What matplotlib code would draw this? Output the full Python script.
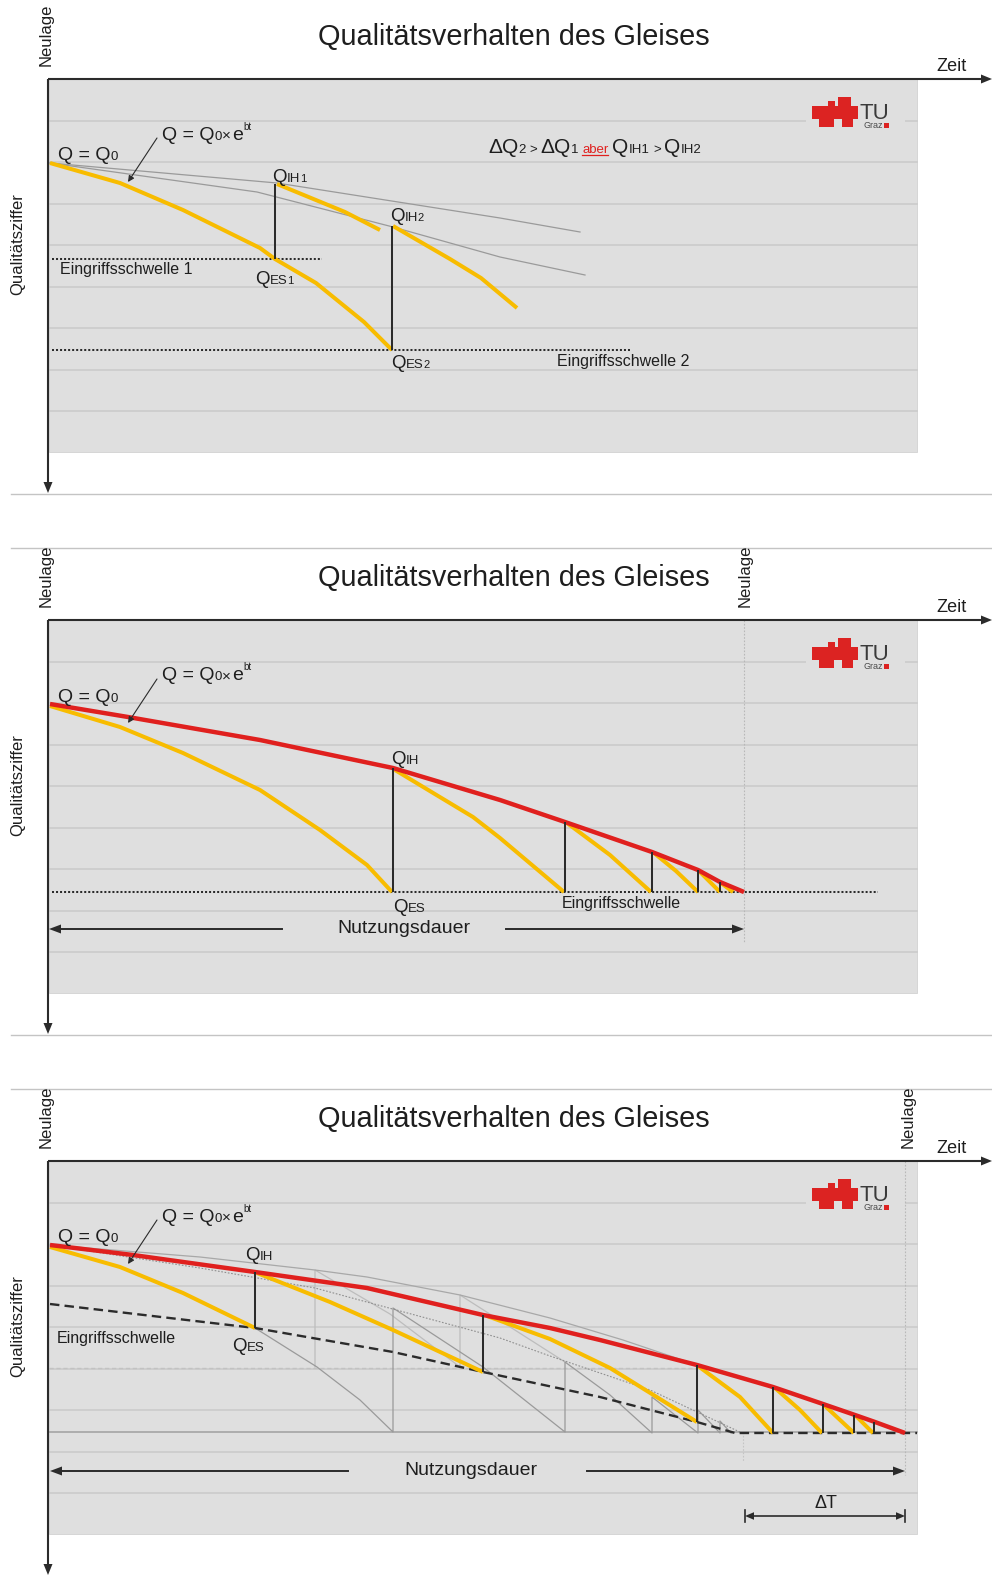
import numpy as np
import matplotlib
matplotlib.use("Agg")
import matplotlib.pyplot as plt
from matplotlib.patches import Rectangle, Polygon

plt.rcParams['font.family'] = ['Liberation Sans', 'DejaVu Sans']

# ---------------------------------------------------------------------------
# Figure frame: three stacked panels, each with its own local time / quality
# coordinate system (time to the right, quality index growing downward).
# ---------------------------------------------------------------------------
FIG_W, FIG_H = 992, 1575
PANEL_H = 541
T_MAX = 992

TITLE = "Qualitätsverhalten des Gleises"
X_LABEL = "Zeit"
Y_LABEL = "Qualitätsziffer"
NEW_LABEL = "Neulage"

# ---------------------------- panel 1 data --------------------------------
p1_decay_t = [50, 120, 183, 260, 275, 316, 364, 392]
p1_decay_q = [163, 183, 210, 248, 259, 283, 322, 350]
p1_after1_t = [277, 345, 380]
p1_after1_q = [184, 212, 230]
p1_after2_t = [393, 450, 481, 517]
p1_after2_q = [226, 259, 278, 308]
p1_env1_t = [50, 277, 500, 580]
p1_env1_q = [163, 183, 218, 232]
p1_env2_t = [50, 257, 393, 500, 585]
p1_env2_q = [163, 192, 227, 257, 275]
p1_threshold_q = [259, 350]
p1_threshold_end = [322, 632]
p1_int_t = [275, 392]
p1_int_top = [184, 226]
p1_int_bottom = [259, 350]

# ---------------------------- panel 2 data --------------------------------
p2_red_t = [50, 128, 260, 393, 500, 565, 652, 698, 720, 744]
p2_red_q = [163, 176, 199, 227, 259, 281, 311, 329, 341, 351]
p2_decay = [
    ([50, 120, 183, 260, 320, 367, 392], [165, 186, 212, 249, 289, 324, 351]),
    ([395, 473, 500, 564], [229, 276, 297, 351]),
    ([567, 610, 651], [282, 314, 351]),
    ([654, 676, 698], [312, 330, 351]),
    ([700, 720], [331, 351]),
    ([721, 733], [342, 351]),
]
p2_int_t = [393, 565, 652, 698, 720]
p2_threshold_q = 351
p2_threshold_end = 878
p2_life_end = 744

# ---------------------------- panel 3 data --------------------------------
p3_red_t = [50, 133, 255, 367, 483, 550, 600, 697, 773, 823, 855, 875, 905]
p3_red_q = [163, 173, 190, 206, 233, 246, 258, 283, 305, 322, 333, 340, 351]
p3_decay = [
    ([50, 120, 183, 255], [165, 185, 211, 246]),
    ([257, 330, 393, 483], [191, 220, 248, 290]),
    ([487, 550, 610, 697], [234, 257, 286, 340]),
    ([698, 740, 773], [284, 315, 351]),
    ([775, 800, 822], [306, 328, 351]),
    ([824, 854], [323, 351]),
    ([856, 873], [334, 351]),
]
p3_int_t = [255, 483, 697, 773, 823, 854, 874]
p3_es_t = [50, 255, 393, 483, 600, 697, 735, 917]
p3_es_q = [222, 246, 270, 290, 315, 340, 351, 351]
p3_upper_t = [50, 200, 315, 367, 460, 550, 623, 697]
p3_upper_q = [163, 175, 188, 195, 213, 236, 258, 283]
p3_dotted_t = [50, 200, 315, 500, 550, 650, 742]
p3_dotted_q = [163, 186, 206, 256, 274, 308, 351]
p3_saw_t = [255, 317, 360, 393, 393, 483, 565, 565, 610, 652, 652, 698, 698, 720, 720, 731]
p3_saw_q = [246, 285, 318, 350, 226, 285, 350, 280, 313, 351, 315, 351, 328, 351, 339, 351]
p3_light_t = [315, 315, 390, 460, 460, 565]
p3_light_q = [285, 188, 232, 285, 213, 280]
p3_light_threshold = 286
p3_base_q = 350
p3_life_end = 905
p3_delta_start = 745

# ------------------------------ styling -----------------------------------
BG = '#dfdfdf'
GRID = '#c9c9c9'
YELLOW = '#f8bc00'
RED = '#e0201e'
LOGO_RED = '#dc2322'
DARK = '#2b2b2b'
GRAY = '#9a9a9a'
LIGHT = '#bdbdbd'
TXT = '#1e1e1e'
GRID_Q = [120.5, 162, 203.5, 245, 286.5, 328, 369.5, 411]
FRAME_L, FRAME_R, FRAME_T, FRAME_B = 49, 917, 79, 452

# TU Graz mark, built from red blocks (x0, y0, x1, y1)
LOGO_BLOCKS = [(812, 106, 858, 119),
               (828, 101, 835, 106),
               (838, 97, 851, 106),
               (819, 119, 834, 127),
               (842, 119, 853, 127)]

fig = plt.figure(figsize=(FIG_W / 100, FIG_H / 100), dpi=100)
renderer = fig.canvas.get_renderer()


def make_panel(k):
    top = k * PANEL_H
    ax = fig.add_axes([0, 1 - (top + PANEL_H) / FIG_H, 1, PANEL_H / FIG_H])
    ax.set_xlim(0, T_MAX)
    ax.set_ylim(PANEL_H, 0)
    ax.axis('off')
    return ax


def head(ax, tip, d, L=11, w=4.5, color=DARK, z=6):
    tip = np.asarray(tip, float)
    d = np.asarray(d, float)
    d = d / np.hypot(*d)
    base = tip - d * L
    perp = np.array([-d[1], d[0]])
    ax.add_patch(Polygon([tip, base + perp * w, base - perp * w], closed=True,
                         facecolor=color, edgecolor=color, lw=0, zorder=z))


def rich(ax, x, y, parts):
    """Write text pieces one after another on a shared baseline.
    parts: (text, size, color, raise_px, gap_px, underline)"""
    cur = x
    for txt, size, color, rise, gap, under in parts:
        t = ax.text(cur, y - rise, txt, fontsize=size, color=color,
                    va='baseline', ha='left', zorder=8)
        w = t.get_window_extent(renderer).width
        if under:
            ax.plot([cur, cur + w], [y + 2.2, y + 2.2], color=color, lw=0.9, zorder=8)
        cur += w + gap
    return cur


def P(txt, size=14, color=TXT, rise=0, gap=0, under=False):
    return (txt, size, color, rise, gap, under)


def logo(ax):
    ax.add_patch(Rectangle((806, 88), 99, 46, facecolor=BG, edgecolor='none', zorder=1.5))
    for x0, y0, x1, y1 in LOGO_BLOCKS:
        ax.add_patch(Rectangle((x0, y0), x1 - x0, y1 - y0,
                               facecolor=LOGO_RED, edgecolor='none', zorder=2))
    ax.text(859, 119, "TU", fontsize=16, color='#3a3a3a', va='baseline', ha='left', zorder=3)
    ax.text(863.5, 128, "Graz", fontsize=6.5, color='#4a4a4a', va='baseline', ha='left',
            zorder=3)
    ax.add_patch(Rectangle((884, 122.5), 5, 5, facecolor=LOGO_RED, edgecolor='none', zorder=3))


def frame(ax, top_sep=True, bottom_sep=True):
    ax.add_patch(Rectangle((FRAME_L, FRAME_T), FRAME_R - FRAME_L, FRAME_B - FRAME_T,
                           facecolor=BG, edgecolor='#d2d2d2', lw=0.6, zorder=0))
    for q in GRID_Q:
        ax.plot([FRAME_L, FRAME_R], [q, q], color=GRID, lw=1.1, zorder=1)
    logo(ax)
    # axes with arrow heads
    ax.plot([48, 982], [FRAME_T, FRAME_T], color=DARK, lw=1.5, zorder=6,
            solid_capstyle='butt')
    head(ax, (992, FRAME_T), (1, 0))
    ax.plot([48, 48], [FRAME_T, 483], color=DARK, lw=1.5, zorder=6,
            solid_capstyle='butt')
    head(ax, (48, 493), (0, 1))
    ax.text(514, 45, TITLE, fontsize=20.8, color=TXT, ha='center', va='baseline', zorder=8)
    ax.text(936, 71, X_LABEL, fontsize=13, color=TXT, ha='left', va='baseline', zorder=8)
    ax.text(46.5, 35, NEW_LABEL, fontsize=12, color=TXT, rotation=90,
            ha='center', va='center', zorder=8)
    ax.text(18, 244, Y_LABEL, fontsize=12, color=TXT, rotation=90,
            ha='center', va='center', zorder=8)
    if top_sep:
        ax.plot([11, 992], [7, 7], color='#c4c4c4', lw=1.0, zorder=1)
    if bottom_sep:
        ax.plot([11, 992], [494, 494], color='#c4c4c4', lw=1.0, zorder=1)
    # model formula and start value
    rich(ax, 58, 160.5, [P("Q = Q", 14), P("0", 9.5)])
    rich(ax, 162, 139.5, [P("Q = Q", 14), P("0", 9.5, gap=0.5), P("×", 11, gap=0.5),
                          P("e", 14, gap=0.5), P("bt", 7, rise=10)])
    ax.annotate("", xy=(128, 182), xytext=(157, 138),
                arrowprops=dict(arrowstyle='-|>', color=DARK, lw=0.8,
                                mutation_scale=9, shrinkA=0, shrinkB=0), zorder=7)


def yellow(ax, t, q):
    ax.plot(t, q, color=YELLOW, lw=2.9, zorder=4, solid_capstyle='butt',
            solid_joinstyle='round')


def vbar(ax, t, q0, q1):
    ax.plot([t, t], [q0, q1], color=DARK, lw=1.45, zorder=5, solid_capstyle='butt')


def life_arrow(ax, q, left_end, gap_a, gap_b, right_end, label, label_x):
    ax.plot([gap_a, left_end + 8], [q, q], color=DARK, lw=1.4, zorder=6)
    head(ax, (left_end, q), (-1, 0), L=12, w=4.5)
    ax.plot([gap_b, right_end - 8], [q, q], color=DARK, lw=1.4, zorder=6)
    head(ax, (right_end, q), (1, 0), L=12, w=4.5)
    ax.text(label_x, q + 4, label, fontsize=14, color=TXT, ha='center',
            va='baseline', zorder=8)


# =============================== PANEL 1 ===================================
ax1 = make_panel(0)
frame(ax1, top_sep=False)
ax1.plot(p1_env1_t, p1_env1_q, color=GRAY, lw=0.9, zorder=3)
ax1.plot(p1_env2_t, p1_env2_q, color=GRAY, lw=0.9, zorder=3)
for q, end in zip(p1_threshold_q, p1_threshold_end):
    ax1.plot([52, end], [q, q], color=DARK, lw=1.45, ls=(0, (1, 1)), zorder=3)
yellow(ax1, p1_decay_t, p1_decay_q)
yellow(ax1, p1_after1_t, p1_after1_q)
yellow(ax1, p1_after2_t, p1_after2_q)
for t, a, b in zip(p1_int_t, p1_int_top, p1_int_bottom):
    vbar(ax1, t, a, b)
rich(ax1, 272, 182, [P("Q", 13.5), P("IH", 9.5), P("1", 8)])
rich(ax1, 390, 221, [P("Q", 13.5), P("IH", 9.5), P("2", 8)])
rich(ax1, 255, 284.5, [P("Q", 13.5), P("ES", 9.5), P("1", 8)])
rich(ax1, 391, 368, [P("Q", 13.5), P("ES", 9.5), P("2", 8)])
ax1.text(60, 274, "Eingriffsschwelle 1", fontsize=11.5, color=TXT, va='baseline', zorder=8)
ax1.text(557, 366, "Eingriffsschwelle 2", fontsize=11.5, color=TXT, va='baseline', zorder=8)
rich(ax1, 488, 153, [P("ΔQ", 15), P("2", 9.5, gap=3.5), P(">", 9.5, gap=3.5),
                     P("ΔQ", 15), P("1", 9.5, gap=4), P("aber", 9.5, color=RED, gap=4, under=True),
                     P("Q", 15), P("IH1", 9.5, gap=3.5), P(">", 9.5, gap=3.5),
                     P("Q", 15), P("IH2", 9.5)])

# =============================== PANEL 2 ===================================
ax2 = make_panel(1)
frame(ax2)
ax2.plot([p2_life_end, p2_life_end], [FRAME_T, 401], color='#b8b8b8', lw=0.8,
         ls=(0, (1.5, 1.5)), zorder=2)
ax2.text(745, 35, NEW_LABEL, fontsize=12, color=TXT, rotation=90,
         ha='center', va='center', zorder=8)
ax2.plot([52, p2_threshold_end], [p2_threshold_q] * 2, color=DARK, lw=1.45,
         ls=(0, (1, 1)), zorder=3)
for t, q in p2_decay:
    yellow(ax2, t, q)
ax2.plot(p2_red_t, p2_red_q, color=RED, lw=3.2, zorder=4.5, solid_capstyle='butt')
for t in p2_int_t:
    vbar(ax2, t, np.interp(t, p2_red_t, p2_red_q), p2_threshold_q)
rich(ax2, 391, 223, [P("Q", 13.5), P("IH", 9.5)])
rich(ax2, 393, 371, [P("Q", 13.5), P("ES", 9.5)])
ax2.text(562, 367, "Eingriffsschwelle", fontsize=11.5, color=TXT, va='baseline', zorder=8)
life_arrow(ax2, 388, 49, 282, 506, p2_life_end, "Nutzungsdauer", 404)

# =============================== PANEL 3 ===================================
ax3 = make_panel(2)
frame(ax3, bottom_sep=False)
ax3.plot([p3_life_end, p3_life_end], [FRAME_T, 393], color='#b8b8b8', lw=0.8,
         ls=(0, (1.5, 1.5)), zorder=2)
ax3.plot([p3_delta_start - 2, p3_delta_start - 2], [p3_base_q, 380], color='#c4c4c4', lw=0.8,
         ls=(0, (1.5, 1.5)), zorder=2)
ax3.text(908, 35, NEW_LABEL, fontsize=12, color=TXT, rotation=90,
         ha='center', va='center', zorder=8)
# reference level of the untreated track and lighter intermediate level
ax3.plot([FRAME_L, FRAME_R], [p3_base_q] * 2, color='#a9a9a9', lw=1.3, zorder=2)
ax3.plot([FRAME_L, 697], [p3_light_threshold] * 2, color='#c2c2c2', lw=1.0,
         ls=(0, (3, 2)), zorder=2)
ax3.plot(p3_light_t, p3_light_q, color=LIGHT, lw=0.9, zorder=2.5)
ax3.plot(p3_saw_t, p3_saw_q, color=GRAY, lw=0.9, zorder=2.6)
ax3.plot(p3_upper_t, p3_upper_q, color='#a8a8a8', lw=0.9, zorder=2.6)
ax3.plot(p3_dotted_t, p3_dotted_q, color='#8f8f8f', lw=0.8, ls=(0, (1.5, 1.5)), zorder=2.7)
ax3.plot(p3_es_t, p3_es_q, color=DARK, lw=1.7, ls=(0, (4, 2.2)), zorder=3)
for t, q in p3_decay:
    yellow(ax3, t, q)
ax3.plot(p3_red_t, p3_red_q, color=RED, lw=3.2, zorder=4.5, solid_capstyle='butt')
for t in p3_int_t:
    vbar(ax3, t, np.interp(t, p3_red_t, p3_red_q), np.interp(t, p3_es_t, p3_es_q))
rich(ax3, 245, 178, [P("Q", 13.5), P("IH", 9.5)])
rich(ax3, 232, 269, [P("Q", 13.5), P("ES", 9.5)])
ax3.text(57, 261, "Eingriffsschwelle", fontsize=11.5, color=TXT, va='baseline', zorder=8)
life_arrow(ax3, 389, 50, 348, 587, p3_life_end, "Nutzungsdauer", 471)
# Delta T span
dq = 434
ax3.plot([p3_delta_start + 8, p3_life_end - 8], [dq, dq], color=DARK, lw=1.2, zorder=6)
head(ax3, (p3_delta_start, dq), (-1, 0), L=9, w=3.8)
head(ax3, (p3_life_end, dq), (1, 0), L=9, w=3.8)
for t in (p3_delta_start, p3_life_end):
    ax3.plot([t, t], [dq - 6, dq + 6], color=DARK, lw=1.2, zorder=6)
ax3.text(826, 426, "ΔT", fontsize=13, color=TXT, ha='center', va='baseline', zorder=8)

fig.savefig("out.png", dpi=100, facecolor='white')
